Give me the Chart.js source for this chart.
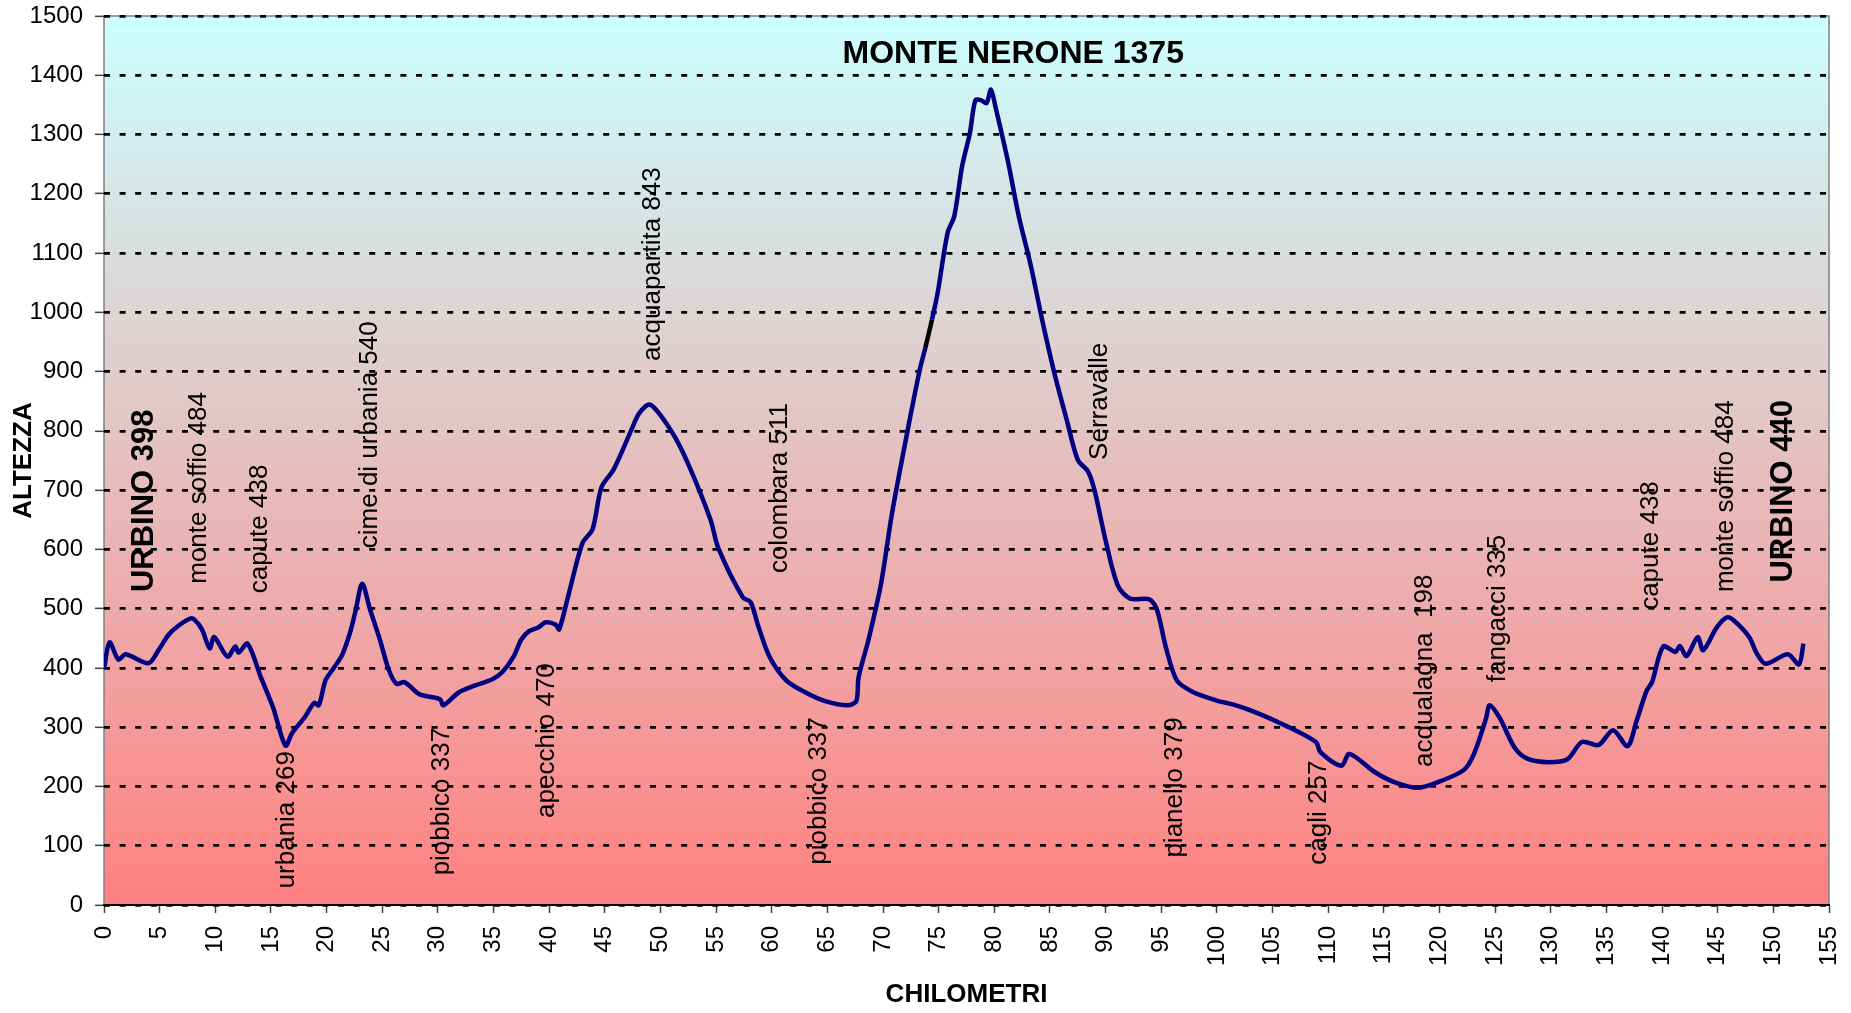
<!DOCTYPE html>
<html>
<head>
<meta charset="utf-8">
<title>Altimetria Urbino - Monte Nerone</title>
<script src="https://cdn.jsdelivr.net/npm/chart.js@4.4.0/dist/chart.umd.min.js"></script>
<style>
  html, body { margin: 0; padding: 0; background: #fff; }
  #wrap { width: 1851px; height: 1013px; }
</style>
</head>
<body>
<div id="wrap"><canvas id="grafico" width="1851" height="1013"></canvas></div>
<script>
// profilo altimetrico: km percorsi e quota
var chilometri = [0, 0.5, 1.3, 1.95, 4.0, 4.9, 5.8, 6.6, 7.7, 8.1, 8.8, 9.5, 9.9, 11.1, 11.8, 12.1, 12.9,
    14.1, 15.2, 16.3, 16.9, 18.0, 18.9, 19.3, 19.9, 20.5, 21.4, 22.1, 22.6, 23.2, 23.9, 24.8, 25.6,
    26.3, 27.0, 28.3, 29.4, 30.2, 30.5, 31.9, 33.3, 34.9, 35.8, 36.8, 37.5, 38.2, 39.0, 39.7, 40.6,
    40.9, 41.8, 43.0, 43.9, 44.7, 45.8, 47.4, 48.1, 49.1, 51.0, 52.4, 54.5, 55.2, 57.4, 58.1, 58.8,
    59.8, 61.3, 63.0, 64.8, 66.8, 67.6, 67.8, 68.7, 69.8, 70.8, 72.1, 73.3, 73.8, 74.4, 74.9, 75.8,
    76.4, 77.1, 77.8, 78.3, 78.8, 79.3, 79.7, 80.1, 81.2, 82.2, 83.3, 84.3, 85.4, 86.5, 87.5, 88.4,
    89.0, 90.0, 91.1, 92.2, 93.9, 94.6, 95.4, 96.4, 97.8, 100.0, 101.5, 103.2, 106.0, 108.9, 109.3,
    111.2, 111.9, 114.2, 116.0, 118.1, 120.1, 122.2, 123.1, 124.2, 124.5, 125.4, 126.8, 128.0, 129.8,
    131.5, 132.8, 134.3, 135.6, 136.9, 137.7, 138.6, 139.1, 140.1, 141.2, 141.6, 142.2, 143.2, 143.7,
    144.9, 145.8, 146.4, 147.8, 148.5, 149.3, 151.3, 152.3, 152.7];
var altezze = [398, 443, 414, 423, 408, 430, 456, 470, 483, 482, 465, 433, 452, 419, 436, 426, 441,
    384, 333, 269, 290, 316, 341, 337, 379, 396, 422, 459, 496, 542, 499, 447, 396,
    373, 376, 356, 351, 347, 337, 359, 370, 381, 393, 419, 448, 462, 468, 477, 473,
    465, 528, 611, 634, 705, 735, 802, 830, 844, 799, 748, 650, 602, 519, 511, 470,
    419, 379, 359, 344, 337, 344, 384, 448, 540, 660, 790, 903, 940, 988, 1032, 1134,
    1162, 1246, 1302, 1358, 1358, 1353, 1376, 1347, 1257, 1162, 1077, 987, 897, 819, 751, 732,
    700, 615, 539, 517, 516, 499, 436, 379, 360, 345, 338, 327, 304, 275, 258,
    235, 255, 224, 207, 198, 209, 228, 255, 316, 337, 316, 264, 246, 241,
    246, 275, 270, 295, 268, 310, 361, 376, 436, 427, 437, 420, 452, 430,
    468, 485, 481, 453, 425, 407, 423, 406, 441];

var tickChilometri = [0, 5, 10, 15, 20, 25, 30, 35, 40, 45, 50, 55, 60, 65, 70, 75, 80,
    85, 90, 95, 100, 105, 110, 115, 120, 125, 130, 135, 140, 145, 150, 155];
var tickAltezze = [0, 100, 200, 300, 400, 500, 600, 700, 800, 900, 1000, 1100, 1200, 1300, 1400, 1500];

// località lungo il percorso (km, quota a cui parte la scritta)
var localita = ['monte soffio 484', 'capute 438', 'cime di urbania 540', 'urbania 269', 'piobbico 337',
    'apecchio 470', 'acquapartita 843', 'colombara 511', 'piobbico 337', 'Serravalle', 'pianello 379',
    'cagli 257', 'acqualagna  198', 'fangacci 335', 'capute 438', 'monte soffio 484'];
var localitaKm = [8.5, 14.0, 23.9, 16.4, 30.4, 39.8, 49.3, 60.7, 64.2, 89.5, 96.2, 109.2, 118.7, 125.2, 139.0, 145.7];
var localitaQuota = [542, 526, 602, 28, 50, 147, 918, 560, 68, 751, 80, 68, 233, 376, 498, 528];

var capolinea = ['URBINO 398', 'URBINO 440'];
var capolineaKm = [3.6, 150.9];
var capolineaQuota = [528, 544];

var vetta = ['MONTE NERONE 1375'];
var vettaKm = [81.7];
var vettaQuota = [1436];

var FONT = '"Liberation Sans", Arial, sans-serif';

var sfondo = {
    id: 'sfondo',
    beforeDraw: function (chart) {
        var ctx = chart.ctx;
        var a = chart.chartArea;
        var grad = ctx.createLinearGradient(0, a.top, 0, a.bottom);
        grad.addColorStop(0, '#ccffff');
        grad.addColorStop(1, '#ff8080');
        ctx.save();
        ctx.fillStyle = grad;
        ctx.fillRect(a.left, a.top, a.right - a.left, a.bottom - a.top);
        ctx.strokeStyle = '#808080';
        ctx.lineWidth = 1.5;
        ctx.beginPath();
        ctx.moveTo(a.left, a.bottom);
        ctx.lineTo(a.left, a.top);
        ctx.lineTo(a.right, a.top);
        ctx.lineTo(a.right, a.bottom);
        ctx.stroke();
        ctx.restore();
    }
};

var scritte = {
    id: 'scritte',
    afterDatasetsDraw: function (chart) {
        var ctx = chart.ctx;
        var xs = chart.scales.x;
        var ys = chart.scales.y;

        function verticale(testo, km, quota, font) {
            ctx.save();
            ctx.translate(xs.getPixelForValue(km), ys.getPixelForValue(quota));
            ctx.rotate(-Math.PI / 2);
            ctx.font = font;
            ctx.textAlign = 'left';
            ctx.textBaseline = 'middle';
            ctx.fillStyle = '#000';
            ctx.fillText(testo, 0, 0);
            ctx.restore();
        }

        for (var i = 0; i < localita.length; i++) {
            verticale(localita[i], localitaKm[i], localitaQuota[i], '26px ' + FONT);
        }
        for (var j = 0; j < capolinea.length; j++) {
            verticale(capolinea[j], capolineaKm[j], capolineaQuota[j], 'bold 31px ' + FONT);
        }
        ctx.save();
        ctx.font = 'bold 32px ' + FONT;
        ctx.textAlign = 'center';
        ctx.textBaseline = 'middle';
        ctx.fillStyle = '#000';
        ctx.fillText(vetta[0], xs.getPixelForValue(vettaKm[0]), ys.getPixelForValue(vettaQuota[0]));
        ctx.restore();
    }
};

var punti = chilometri.map(function (km, i) {
    return { x: km, y: altezze[i] };
});

var ctx = document.getElementById('grafico').getContext('2d');
var myChart = new Chart(ctx, {
    type: 'line',
    data: {
        datasets: [{
            label: 'Altezza',
            data: punti,
            borderColor: '#000080',
            borderWidth: 4.5,
            pointRadius: 0,
            tension: 0.3,
            fill: false,
            segment: {
                // piccolo tratto nero sulla salita
                borderColor: function (c) {
                    return (c.p0.parsed.x === 73.8) ? '#000000' : undefined;
                }
            }
        }]
    },
    options: {
        responsive: false,
        animation: false,
        devicePixelRatio: 1,
        layout: { padding: { top: 16, right: 22, left: 0, bottom: 0 } },
        plugins: {
            legend: { display: false },
            tooltip: { enabled: false }
        },
        scales: {
            x: {
                type: 'linear',
                min: 0,
                max: 155,
                afterBuildTicks: function (scale) {
                    scale.ticks = tickChilometri.map(function (v) { return { value: v }; });
                },
                afterFit: function (scale) {
                    scale.height = 108;
                    scale.paddingLeft = 0;
                    scale.paddingRight = 0;
                },
                ticks: {
                    minRotation: 90,
                    maxRotation: 90,
                    padding: 13,
                    color: '#000',
                    font: { family: FONT, size: 24 },
                    callback: function (v) { return String(v); }
                },
                grid: {
                    drawOnChartArea: false,
                    drawTicks: true,
                    tickLength: 8,
                    tickColor: '#404040',
                    tickWidth: 1.5
                },
                border: { display: true, color: '#000', width: 2 },
                title: {
                    display: true,
                    text: 'CHILOMETRI',
                    color: '#000',
                    padding: { top: 0, bottom: 3 },
                    font: { family: FONT, size: 26, weight: 'bold' }
                }
            },
            y: {
                min: 0,
                max: 1500,
                afterBuildTicks: function (scale) {
                    scale.ticks = tickAltezze.map(function (v) { return { value: v }; });
                },
                afterFit: function (scale) {
                    scale.width = 104;
                    scale.paddingTop = 0;
                    scale.paddingBottom = 0;
                },
                ticks: {
                    padding: 12,
                    color: '#000',
                    font: { family: FONT, size: 24 },
                    callback: function (v) { return String(v); }
                },
                grid: {
                    color: '#000',
                    lineWidth: 2.7,
                    tickLength: 9,
                    tickColor: '#404040',
                    tickWidth: 1.5,
                    tickBorderDash: [0, 0]
                },
                border: { display: false, dash: [6, 9.6] },
                title: {
                    display: true,
                    text: 'ALTEZZA',
                    color: '#000',
                    padding: { top: 8, bottom: 0 },
                    font: { family: FONT, size: 26, weight: 'bold' }
                }
            }
        }
    },
    plugins: [sfondo, scritte]
});
</script>
</body>
</html>
